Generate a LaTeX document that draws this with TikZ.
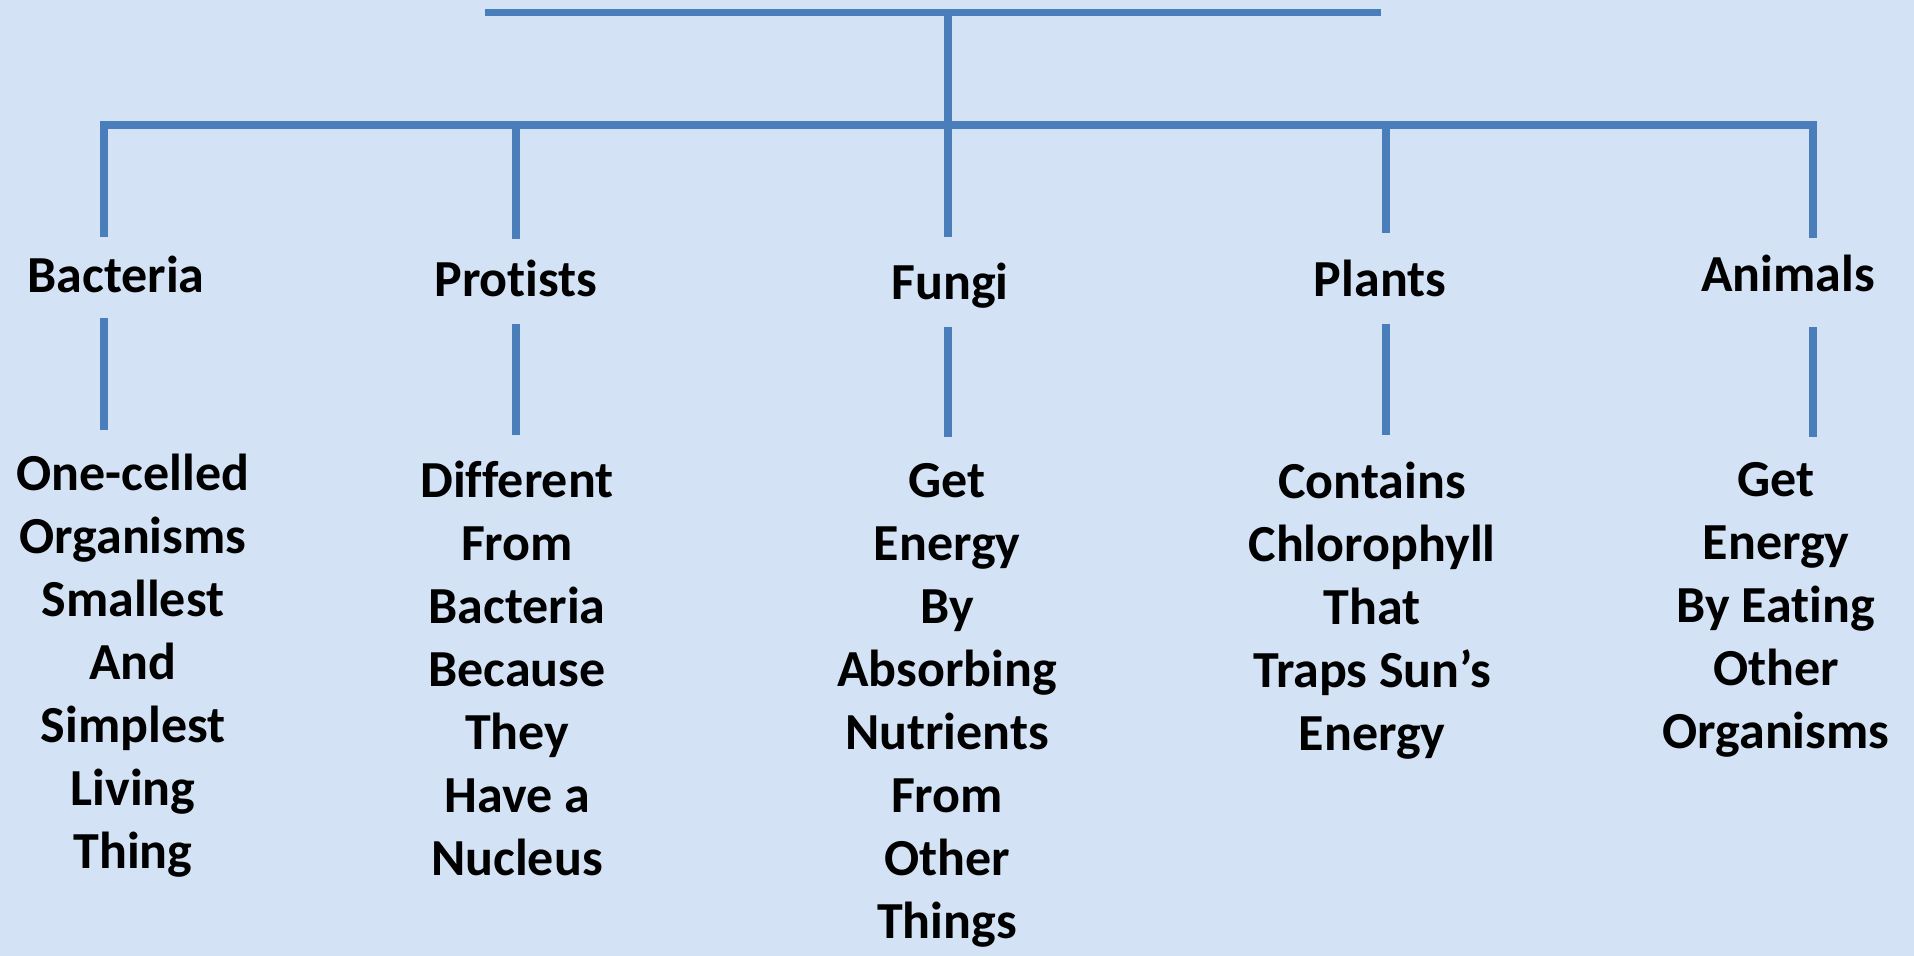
\documentclass[tikz,border=0pt]{standalone}
\usepackage{fontspec}
\setmainfont{Carlito}[Ligatures=NoCommon]
\definecolor{bg}{RGB}{211,227,245}
\definecolor{ln}{RGB}{74,126,187}
\begin{document}
\begin{tikzpicture}[x=0.5pt,y=-0.5pt,
  conn/.style={draw=ln,line width=3.8pt,line join=miter},
  lbl/.style={font=\bfseries\fontsize{26}{31.5}\selectfont,anchor=base,inner sep=0pt,text=black},
  desc/.style={lbl,align=center}]
\fill[bg] (0,0) rectangle (1914,956);
\useasboundingbox (0,0) rectangle (1914,956);
% coordinates of the tree
\coordinate (tl) at (485,12.5);
\coordinate (tr) at (1381,12.5);
\coordinate (tc) at (948,12.5);
\coordinate (hl) at (104,125);
\coordinate (hr) at (1813,125);
\coordinate (hp) at (516,125);
\coordinate (hf) at (948,125);
\coordinate (hpl) at (1386,125);
\coordinate (bacU) at (104,237);
\coordinate (proU) at (516,239);
\coordinate (funU) at (948,237);
\coordinate (plaU) at (1386,233);
\coordinate (aniU) at (1813,238);
\coordinate (bacA) at (104,318);
\coordinate (bacB) at (104,430);
\coordinate (proA) at (516,324);
\coordinate (proB) at (516,435);
\coordinate (funA) at (948,327);
\coordinate (funB) at (948,437);
\coordinate (plaA) at (1386,324);
\coordinate (plaB) at (1386,435);
\coordinate (aniA) at (1813,327);
\coordinate (aniB) at (1813,437);
% labels
\node[lbl] (bac) at (116,293) {Bacteria};
\node[lbl] (pro) at (516,297) {Protists};
\node[lbl] (fun) at (950,300) {Fungi};
\node[lbl] (pla) at (1380,297) {Plants};
\node[lbl] (ani) at (1788,292) {Animals};
% descriptions (base = baseline of last line)
\node[desc] (bacD) at (133,868) {One-celled\\Organisms\\Smallest\\And\\Simplest\\Living\\Thing};
\node[desc] (proD) at (517,875) {Different\\From\\Bacteria\\Because\\They\\Have a\\Nucleus};
\node[desc] (funD) at (947,938) {Get\\Energy\\By\\Absorbing\\Nutrients\\From\\Other\\Things};
\node[desc] (plaD) at (1372,750) {Contains\\Chlorophyll\\That\\Traps Sun’s\\Energy};
\node[desc] (aniD) at (1776,748) {Get\\Energy\\By Eating\\Other\\Organisms};
% connectors
\draw[conn] (tl) -- (tr);
\draw[conn] (tc) -- (hf);
\draw[conn] (bacU) -- (hl) -- (hr) -- (aniU);
\draw[conn] (hp) -- (proU);
\draw[conn] (hf) -- (funU);
\draw[conn] (hpl) -- (plaU);
\draw[conn] (bacA) -- (bacB);
\draw[conn] (proA) -- (proB);
\draw[conn] (funA) -- (funB);
\draw[conn] (plaA) -- (plaB);
\draw[conn] (aniA) -- (aniB);
\end{tikzpicture}
\end{document}
